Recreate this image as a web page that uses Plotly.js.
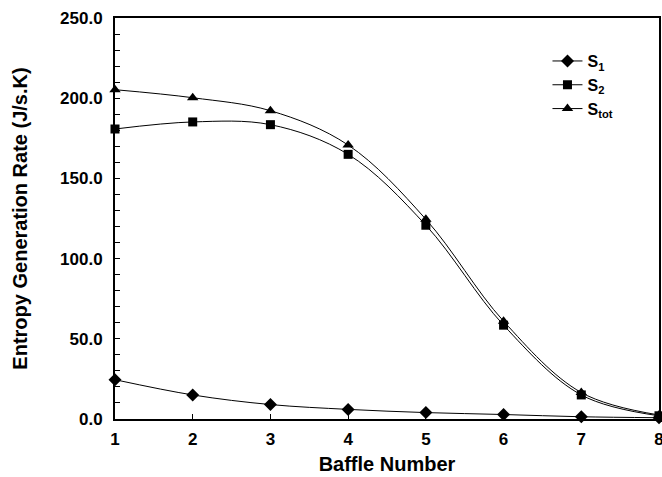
<!DOCTYPE html>
<html>
<head>
<meta charset="utf-8">
<script src="https://cdn.plot.ly/plotly-3.0.1.min.js"></script>
<style>html,body{margin:0;padding:0;background:#fff;}#chart{width:662px;height:477px;}</style>
</head>
<body>
<div id="chart"></div>
<script>
var baffles = [1, 2, 3, 4, 5, 6, 7, 8];
var s1 = [24.5, 15.0, 9.0, 6.0, 4.0, 2.8, 1.4, 0.8];
var s2 = [180.8, 185.2, 183.5, 165.0, 120.8, 58.5, 15.0, 2.0];
var stot = [205.3, 200.3, 192.2, 170.8, 124.5, 61.0, 16.5, 2.5];
var names = ['S<sub>1</sub>', 'S<sub>2</sub>', 'S<sub>tot</sub>'];

function tr(y, name, sym, size) {
  return {
    x: baffles, y: y, name: name, type: 'scatter', mode: 'lines+markers',
    line: {color: '#000', width: 1, shape: 'spline', smoothing: 1},
    marker: {symbol: sym, size: size, color: '#000'},
    cliponaxis: false
  };
}
var data = [
  tr(s1, names[0], 'diamond', 10),
  tr(s2, names[1], 'square', 9),
  tr(stot, names[2], 'triangle-up', 10)
];
var fam = 'Liberation Sans, Arial, sans-serif';
var layout = {
  width: 662, height: 477,
  margin: {l: 115, r: 3, t: 18, b: 58},
  paper_bgcolor: '#fff', plot_bgcolor: '#fff',
  font: {family: fam, color: '#000'},
  showlegend: true,
  legend: {
    x: 0.795, y: 0.935, xanchor: 'left', yanchor: 'top',
    font: {family: fam, size: 16, weight: 'bold', color: '#000'},
    bgcolor: 'rgba(0,0,0,0)', itemwidth: 30, tracegroupgap: 0
  },
  xaxis: {
    range: [1, 8], tickmode: 'array', tickvals: baffles,
    ticks: 'inside', ticklen: 5, tickwidth: 1, tickcolor: '#000',
    showline: true, linecolor: '#000', linewidth: 2, mirror: true,
    showgrid: false, zeroline: false, ticklabeloverflow: 'allow',
    ticklabelstandoff: 4,
    tickfont: {family: fam, size: 17, weight: 'bold', color: '#000'},
    title: {text: 'Baffle Number', font: {family: fam, size: 20, weight: 'bold', color: '#000'}, standoff: 9}
  },
  yaxis: {
    range: [0, 250], dtick: 50, tickformat: '.1f',
    ticks: 'inside', ticklen: 5, tickwidth: 1, tickcolor: '#000',
    minor: {dtick: 10, ticks: 'inside', ticklen: 5, tickwidth: 1, tickcolor: '#000', showgrid: false},
    showline: true, linecolor: '#000', linewidth: 2, mirror: true,
    showgrid: false, zeroline: false, ticklabelstandoff: 7,
    tickfont: {family: fam, size: 17, weight: 'bold', color: '#000'},
    title: {text: 'Entropy Generation Rate (J/s.K)', font: {family: fam, size: 20, weight: 'bold', color: '#000'}, standoff: 27}
  }
};
Plotly.newPlot('chart', data, layout, {displayModeBar: false, staticPlot: true});
</script>
</body>
</html>
